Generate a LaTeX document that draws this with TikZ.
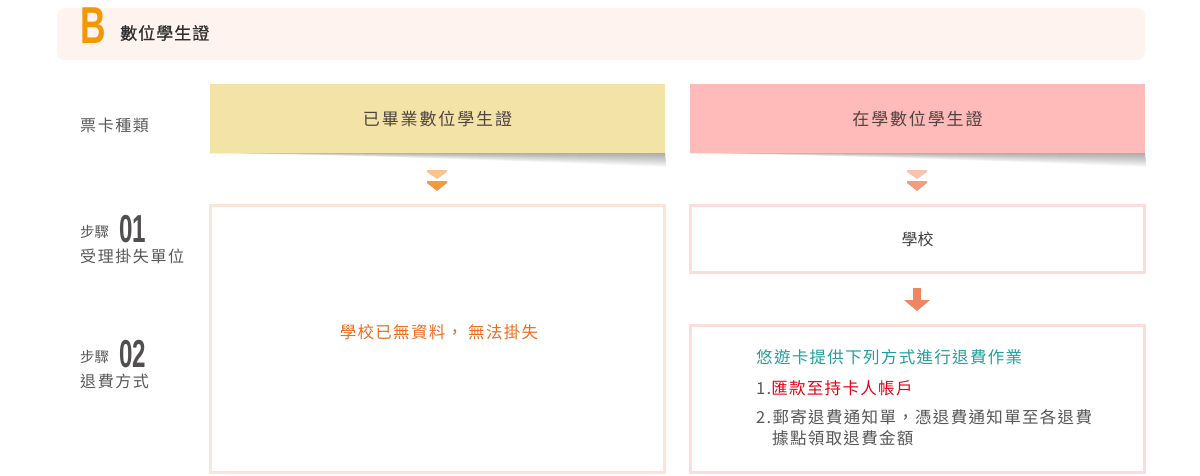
\documentclass[tikz,border=0pt]{standalone}
\usepackage{fontspec}
\setmainfont{Noto Sans CJK TC}
\newfontfamily\numfont{Liberation Sans}
\definecolor{headbg}{HTML}{FEF3EE}
\definecolor{borange}{HTML}{F39800}
\definecolor{yellowbox}{HTML}{F3E3A6}
\definecolor{pinkbox}{HTML}{FFBABA}
\definecolor{peachborder}{HTML}{FDE5D5}
\definecolor{pinkborder}{HTML}{FDDCDC}
\definecolor{textdark}{HTML}{595757}
\definecolor{titletext}{HTML}{4F4341}
\definecolor{orangetxt}{HTML}{EE6C1E}
\definecolor{tealtxt}{HTML}{23A09B}
\definecolor{redtxt}{HTML}{E60012}
\definecolor{chevA}{HTML}{F9C48E}
\definecolor{chevB}{HTML}{F39A3E}
\definecolor{chevC}{HTML}{F9C2B3}
\definecolor{chevD}{HTML}{F39C82}
\definecolor{arrowc}{HTML}{F08562}
\tikzset{
  titlebox/.style={inner sep=0pt, text=titletext, font=\fontsize{17}{20}\selectfont\addfontfeature{LetterSpace=11}},
  framebox/.style={draw, line width=3pt, fill=white, inner sep=0pt},
  lbl/.style={anchor=west, inner sep=0pt, text=textdark, font=\fontsize{16}{18}\selectfont\addfontfeature{LetterSpace=10}},
  steplbl/.style={anchor=base west, inner sep=0pt, text=textdark, font=\fontsize{14.5}{16}\selectfont},
  stepnum/.style={anchor=base west, inner sep=0pt, text=textdark!90!black},
  bodytxt/.style={anchor=west, inner sep=0pt, font=\fontsize{16.5}{19}\selectfont\addfontfeature{LetterSpace=8}},
  shadowlayer/.style={fill=black, opacity=0.028}
}
\begin{document}
\begin{tikzpicture}[x=1pt,y=-1pt]
\useasboundingbox (0,0) rectangle (1200,475);
% header
\node[fill=headbg, rounded corners=8pt, minimum width=1088pt, minimum height=52pt, inner sep=0pt] (head) at (601,34) {};
\node[anchor=base west, inner sep=0pt, text=borange] (bletter) at (80.5,43) {\numfont\bfseries\fontsize{52}{52}\selectfont\scalebox{0.68}[1]{B}};
\node[anchor=west, inner sep=0pt, text=black!82, font=\fontsize{17}{19}\selectfont\addfontfeature{LetterSpace=6,FakeBold=0.8}] (htitle) at (120,33) {數位學生證};
% card type row
\node[lbl] (kind) at (80,125) {票卡種類};
% shadows (drawn first, boxes on top)
\foreach \n/\k in {yb/437.5,pb/917.5}{
  \foreach \i in {1,...,14}{
    \fill[shadowlayer] (\k-227.5,153) -- (\k+227.5,153) -- (\k+227.5+0.1*\i,153+1.0*\i) .. controls (\k+100,153+0.6*\i) and (\k-130,153+0.08*\i) .. (\k-227.5,153) -- cycle;
  }
}
\node[titlebox, fill=yellowbox, minimum width=455pt, minimum height=69pt] (yb) at (437.5,118.5) {已畢業數位學生證};
\node[titlebox, fill=pinkbox, minimum width=455pt, minimum height=69pt] (pb) at (917.5,118.5) {在學數位學生證};
% chevrons
\fill[chevA] (427,170) -- (447,170) -- (447,172) -- (437,179) -- (427,172) -- cycle;
\fill[chevB] (427,181) -- (447,181) -- (447,183) -- (437,191) -- (427,183) -- cycle;
\fill[chevC] (907,170) -- (927,170) -- (927,172) -- (917,179) -- (907,172) -- cycle;
\fill[chevD] (907,181) -- (927,181) -- (927,183) -- (917,191) -- (907,183) -- cycle;
% step labels
\node[steplbl] (s1a) at (80,237) {步驟};
\node[stepnum] (s1n) at (119,242) {\numfont\bfseries\fontsize{39}{39}\selectfont\scalebox{0.62}[1]{01}};
\node[lbl] (s1b) at (80,256) {受理掛失單位};
\node[steplbl] (s2a) at (80,362) {步驟};
\node[stepnum] (s2n) at (119,367) {\numfont\bfseries\fontsize{39}{39}\selectfont\scalebox{0.62}[1]{02}};
\node[lbl] (s2b) at (80,381) {退費方式};
% left big box
\node[framebox, draw=peachborder, minimum width=454pt, minimum height=267pt] (lbox) at (437.5,339) {};
\node[inner sep=0pt, text=orangetxt, font=\fontsize{16.5}{19}\selectfont\addfontfeature{LetterSpace=8}] (ltxt) at (439,332) {學校已無資料，\ 無法掛失};
% right boxes
\node[framebox, draw=pinkborder, minimum width=454pt, minimum height=67pt, text=black!75, font=\fontsize{16}{19}\selectfont] (school) at (917.5,239) {學校};
\node[framebox, draw=pinkborder, minimum width=454pt, minimum height=147pt] (rbox) at (917.5,399) {};
% block arrow
\fill[arrowc] (913,288) -- (921,288) -- (921,300) -- (930,300) -- (917,311) -- (904,300) -- (913,300) -- cycle;
% right box text
\node[bodytxt, text=tealtxt] (r1) at (756,357) {悠遊卡提供下列方式進行退費作業};
\node[bodytxt, text=textdark] (r2) at (756,388) {1.\textcolor{redtxt}{匯款至持卡人帳戶}};
\node[bodytxt, text=textdark] (r3) at (756,417) {2.郵寄退費通知單，憑退費通知單至各退費};
\node[bodytxt, text=textdark] (r4) at (772,438) {據點領取退費金額};
\end{tikzpicture}
\end{document}
